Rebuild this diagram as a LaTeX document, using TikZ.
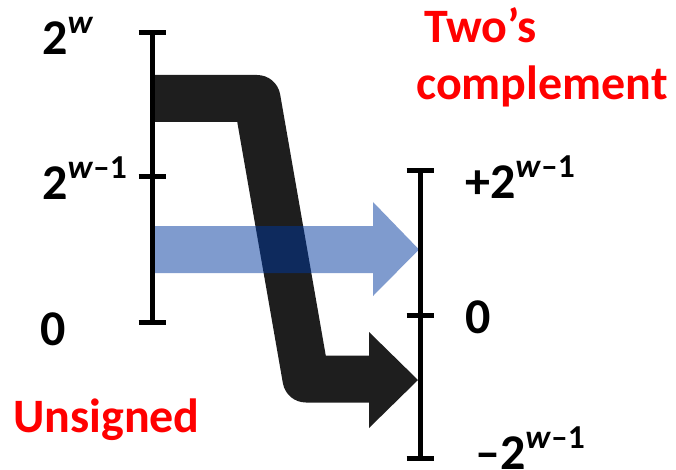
\documentclass[tikz,border=0pt]{standalone}
\usepackage{fontspec}
\setmainfont{Carlito}
\usepackage{xcolor}
\definecolor{bandblack}{RGB}{30,30,30}
\definecolor{bandblue}{RGB}{0,55,157}
\definecolor{labelred}{RGB}{255,0,0}
\usetikzlibrary{positioning, calc}
\newcommand{\expo}[1]{\raisebox{0.42em}{\fontsize{33.5}{33.5}\selectfont #1}}

\begin{document}
\begin{tikzpicture}[x=1pt, y=-1pt,
  axisline/.style={line width=5pt},
  axislabel/.style={font=\fontsize{50}{60}\selectfont\bfseries, anchor=base west, inner sep=0pt},
  titlelabel/.style={font=\fontsize{48}{57}\selectfont\bfseries, labelred, anchor=base west, inner sep=0pt}]
  \useasboundingbox (0,0) rectangle (676,470);

  % Axis points
  \coordinate (utop) at (152,33);
  \coordinate (umid) at (152,177);
  \coordinate (ubot) at (152,322);
  \coordinate (ttop) at (420,171);
  \coordinate (tmid) at (420,315);
  \coordinate (tbot) at (420,458);

  % Black band: upper half of unsigned goes to negative side
  \coordinate (bstart) at (154.5,98.5);
  \coordinate (bknee1) at (257,98.5);
  \coordinate (bknee2) at (306,379);
  \coordinate (bhead) at (371,379);
  \draw[bandblack, line width=47pt, line join=round] (bstart) -- (bknee1) -- (bknee2) -- (bhead);
  \fill[bandblack] ($(bhead)+(-2,-47)$) -- (418,380) -- ($(bhead)+(-2,49)$) -- cycle;

  % Blue arrow: lower half stays
  \fill[bandblue, opacity=0.5] (155,226) -- (373,226) -- (373,202) -- (419,249.5)
    -- (373,296) -- (373,273) -- (155,273) -- cycle;

  % Axes with ticks
  \draw[axisline] (utop) -- (ubot);
  \draw[axisline] (ttop) -- (tbot);
  \foreach \p in {utop, umid, ubot, ttop, tmid, tbot}
    \draw[axisline] ($(\p)+(-13.5,0)$) -- ($(\p)+(13.5,0)$);

  % Unsigned labels
  \node[axislabel] (lw) at (42,55) {2\expo{\textit{w}}};
  \node[axislabel] (lwm) at (42,200) {2\expo{\textit{w}–1}};
  \node[axislabel] (lzero) at (40,345) {0};
  \node[titlelabel] (unsigned) at (13,432) {Unsigned};

  % Two's complement labels
  \node[titlelabel] (twos) at (424,43) {Two’s};
  \node[titlelabel] (compl) at (416,100) {complement};
  \node[axislabel] (rplus) at (465,198) {+2\expo{\textit{w}–1}};
  \node[axislabel] (rzero) at (465,333) {0};
  \node[axislabel] (rminus) at (475,469) {–2\expo{\textit{w}–1}};
\end{tikzpicture}
\end{document}
